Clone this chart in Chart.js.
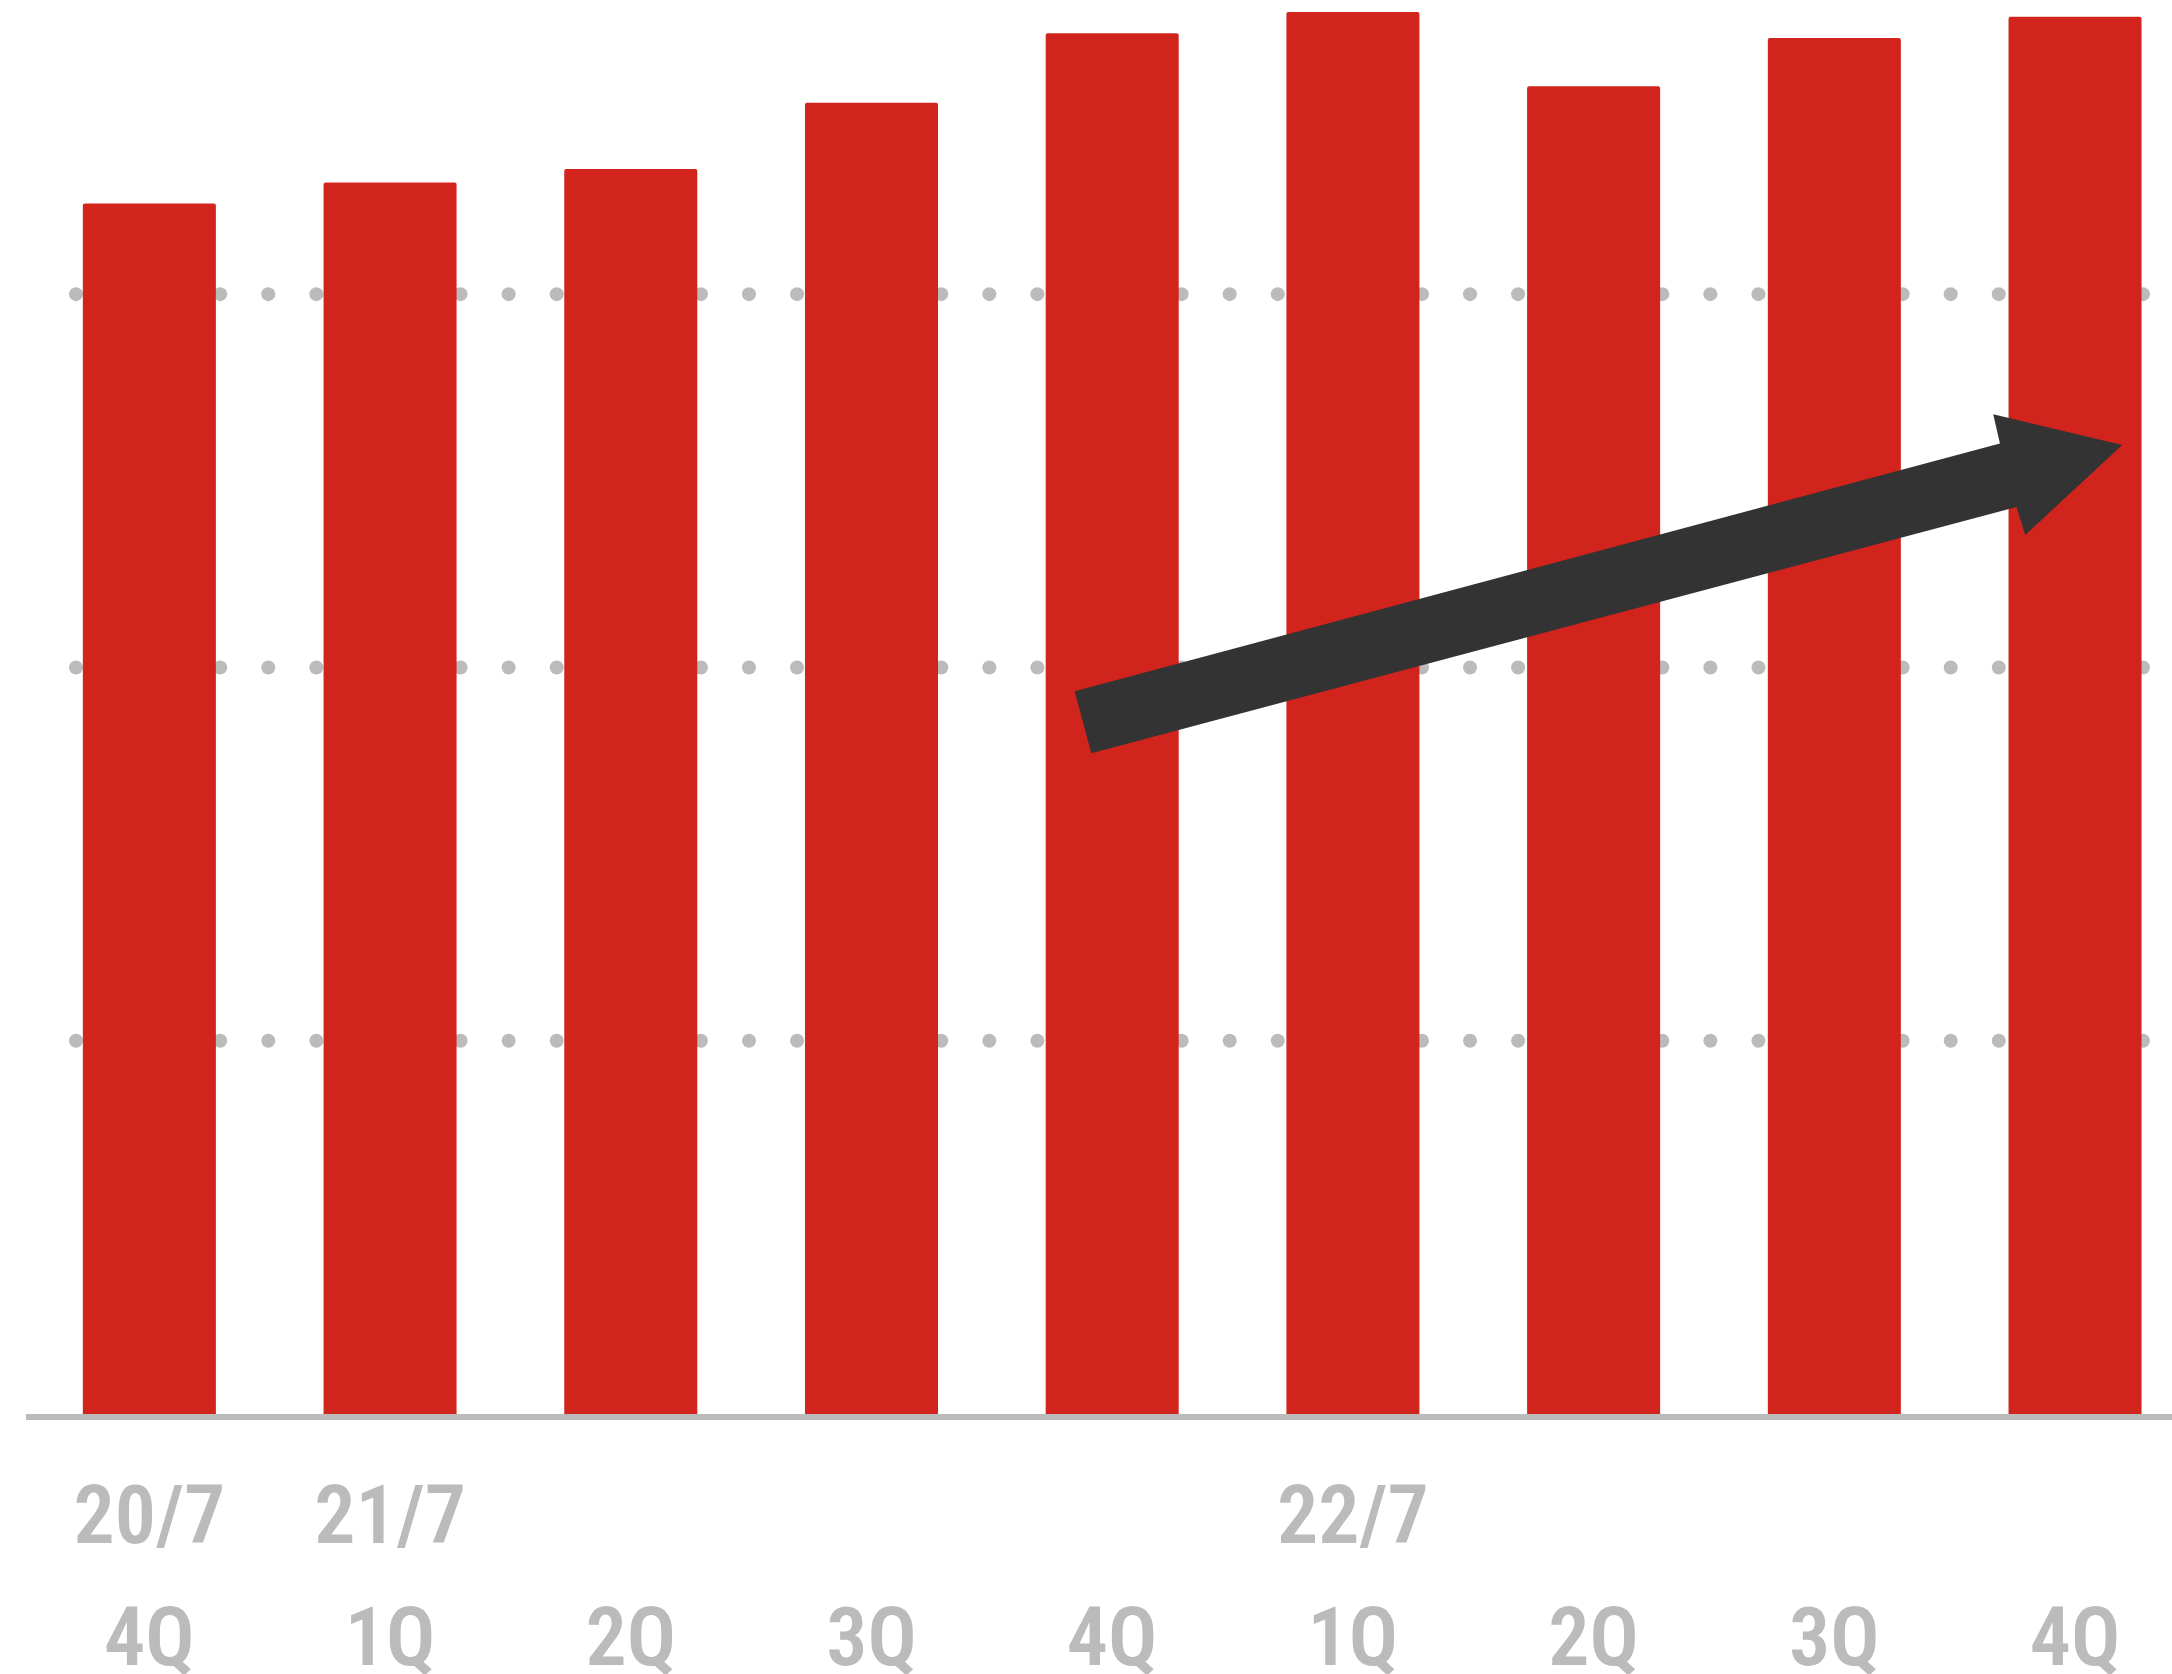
<!DOCTYPE html>
<html><head><meta charset="utf-8">
<script src="https://cdn.jsdelivr.net/npm/chart.js@4"></script>
<style>
html,body{margin:0;padding:0;background:#fff;overflow:hidden;}
#wrap{position:relative;width:2200px;height:1674px;}
</style></head><body>
<div id="wrap"><canvas id="c"></canvas></div>
<script>
// ---- data ----
const periodLabels  = ["20/7", "21/7", "", "", "", "22/7", "", "", ""];
const quarterLabels = ["4Q", "1Q", "2Q", "3Q", "4Q", "1Q", "2Q", "3Q", "4Q"];
const values        = [324.3, 329.9, 333.5, 351.3, 369.9, 375.6, 355.7, 368.6, 374.3];
const gridValues    = [100, 200, 300];
// trend arrow outline, in (category index, value) units
const arrowShape = [[3.844,193.6],[3.913,177.0],[7.757,243.0],[7.793,235.5],[8.196,259.6],[7.660,267.8],[7.688,260.0]];

const labels = periodLabels.map((p, i) => [p, quarterLabels[i]]);
const GRAY = '#BBBBBB';

const decor = {
  id: 'decor',
  beforeDatasetsDraw(chart) {
    const {ctx, chartArea, scales: {y}} = chart;
    ctx.save();
    ctx.fillStyle = GRAY;
    const step = 48.07, r = 7;
    y.ticks.forEach(t => {
      if (!gridValues.includes(t.value)) return;
      const py = y.getPixelForValue(t.value);
      for (let px = chartArea.left + 47; px < chart.width; px += step) {
        ctx.beginPath(); ctx.arc(px, py, r, 0, Math.PI * 2); ctx.fill();
      }
    });
    ctx.fillRect(chartArea.left - 3, chartArea.bottom, chart.width, 6);
    ctx.restore();
  },
  afterDatasetsDraw(chart) {
    const {ctx, scales: {x, y}} = chart;
    ctx.save();
    ctx.fillStyle = '#333333';
    ctx.beginPath();
    arrowShape.forEach(([i, v], k) => {
      const px = x.getPixelForValue(i), py = y.getPixelForValue(v);
      if (k) ctx.lineTo(px, py); else ctx.moveTo(px, py);
    });
    ctx.closePath(); ctx.fill();
    ctx.restore();
  }
};

new Chart(document.getElementById('c'), {
  type: 'bar',
  data: {
    labels,
    datasets: [{
      data: values,
      backgroundColor: '#D0241C',
      borderWidth: 0,
      borderRadius: {topLeft: 2, topRight: 2, bottomLeft: 0, bottomRight: 0},
      borderSkipped: 'start',
      barPercentage: 0.5526,
      categoryPercentage: 1
    }]
  },
  options: {
    responsive: true,
    maintainAspectRatio: false,
    animation: false,
    devicePixelRatio: 1,
    layout: {padding: {left: 29, right: 4.6, top: 3, bottom: 0}},
    plugins: {legend: {display: false}, tooltip: {enabled: false}},
    scales: {
      x: {
        type: 'category',
        offset: true,
        grid: {display: false, drawTicks: false},
        border: {display: false},
        ticks: {
          color: GRAY,
          font: {family: "'Roboto Condensed', 'Open Sans Condensed', 'DejaVu Sans Condensed', sans-serif", size: 82, weight: 600, lineHeight: 1.488},
          padding: 47,
          maxRotation: 0,
          minRotation: 0,
          autoSkip: false
        },
        afterFit(s) { s.height = 260; }
      },
      y: {
        min: 0,
        max: 378,
        ticks: {display: false, stepSize: 100},
        grid: {display: false, drawTicks: false},
        border: {display: false},
        afterFit(s) { s.width = 0; }
      }
    }
  },
  plugins: [decor]
});
</script>
</body></html>
